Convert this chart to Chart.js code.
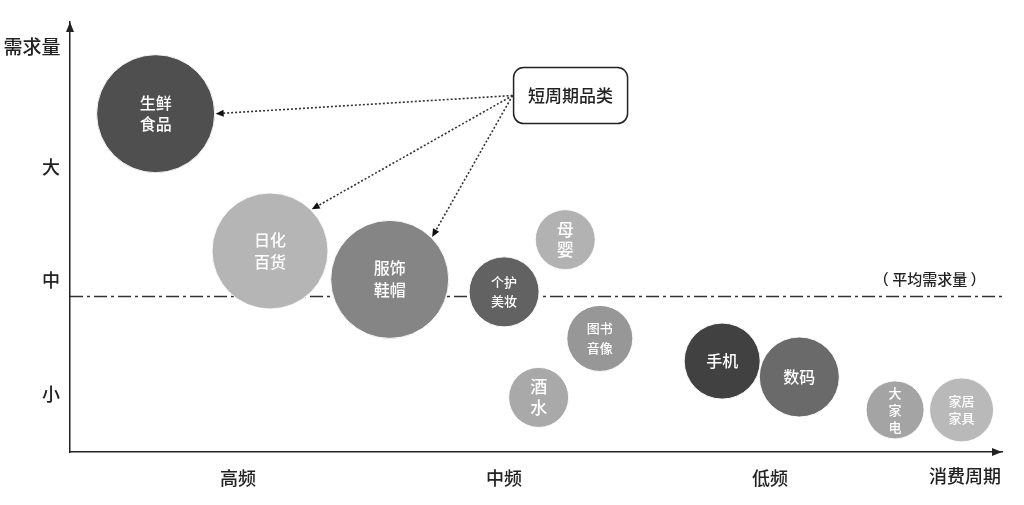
<!DOCTYPE html>
<html><head><meta charset="utf-8">
<script src="https://cdn.jsdelivr.net/npm/chart.js@4.4.1/dist/chart.umd.min.js"></script>
<style>html,body{margin:0;padding:0;background:#fff;overflow:hidden;}</style>
</head><body>
<canvas id="c" width="1024" height="505"></canvas>
<script>
// ---- data ----
const categories = ['生鲜\n食品','日化\n百货','服饰\n鞋帽','个护\n美妆','母\n婴','图书\n音像','酒\n水','手机','数码','大\n家\n电','家居\n家具'];
const frequency = [0.69, 1.12, 1.57, 2.00, 2.23, 2.36, 2.13, 2.82, 3.11, 3.47, 3.72];
const demand = [3.47, 2.26, 2.01, 1.90, 2.36, 1.49, 0.97, 1.29, 1.15, 0.86, 0.86];
const bubbleSize = [59, 58, 59, 35, 30, 33, 30, 38, 40, 29, 32];
const xTickValues = [1, 2, 3];
const xTickLabels = ['高频', '中频', '低频'];
const yTickValues = [1, 2, 3];
const yTickLabels = ['小', '中', '大'];
const averageDemand = 1.86;
const shortCycleIdx = [0, 1, 2];
const calloutText = '短周期品类';
const avgText = '（ 平均需求量 ）';
const xTitle = '消费周期';
const yTitle = '需求量';

// ---- styles ----
const FONT = '"Noto Sans CJK SC", "Noto Sans", sans-serif';
const W = '500 ';
const bubbleColors = ['#4f4f4f','#b5b5b5','#858585','#626262','#b2b2b2','#979797','#a9a9a9','#414141','#6a6a6a','#a4a4a4','#b9b9b9'];
const labelFont = [16,16,16,13,17,13,17,16,16,13,13];
const labelLine = [21,22,22,19,20,20,21,20,20,17,17];
const arrowAngles = [0, -Math.PI/4, -Math.PI/4];

const points = categories.map((c, i) => ({x: frequency[i], y: demand[i], r: bubbleSize[i]}));

function arrowHead(ctx, x1, y1, x2, y2, len, wid) {
  const a = Math.atan2(y2 - y1, x2 - x1);
  ctx.beginPath();
  ctx.moveTo(x2, y2);
  ctx.lineTo(x2 - len*Math.cos(a) + wid*Math.sin(a), y2 - len*Math.sin(a) - wid*Math.cos(a));
  ctx.lineTo(x2 - len*Math.cos(a) - wid*Math.sin(a), y2 - len*Math.sin(a) + wid*Math.cos(a));
  ctx.closePath();
  ctx.fill();
}

const decor = {
  id: 'decor',
  beforeDatasetsDraw(chart) {
    const {ctx, chartArea: ca, scales} = chart;
    const y = scales.y.getPixelForValue(averageDemand);
    ctx.save();
    ctx.strokeStyle = '#333';
    ctx.lineWidth = 1.5;
    ctx.setLineDash([13, 4, 3, 4]);
    ctx.beginPath();
    ctx.moveTo(ca.left, y);
    ctx.lineTo(ca.right, y);
    ctx.stroke();
    ctx.setLineDash([]);
    ctx.fillStyle = '#222';
    ctx.font = W + '15px ' + FONT;
    ctx.textAlign = 'center';
    ctx.textBaseline = 'middle';
    ctx.fillText(avgText, scales.x.getPixelForValue(3.6), y - 17);
    ctx.restore();
  },
  afterDatasetsDraw(chart) {
    const {ctx, chartArea: ca, scales} = chart;
    const meta = chart.getDatasetMeta(0);
    ctx.save();
    // bubble labels
    ctx.fillStyle = '#ffffff';
    ctx.textAlign = 'center';
    ctx.textBaseline = 'middle';
    meta.data.forEach((el, i) => {
      const lines = categories[i].split('\n');
      ctx.font = W + labelFont[i] + 'px ' + FONT;
      const lh = labelLine[i];
      const y0 = el.y - (lines.length - 1) * lh / 2;
      lines.forEach((ln, k) => ctx.fillText(ln, el.x, y0 + k * lh));
    });
    // axis arrows
    ctx.fillStyle = '#222';
    arrowHead(ctx, ca.left, ca.bottom, ca.left, ca.top, 10, 4);
    arrowHead(ctx, ca.left, ca.bottom, ca.right, ca.bottom, 10, 4);
    // axis titles
    ctx.font = W + '19px ' + FONT;
    ctx.textAlign = 'center';
    ctx.fillText(yTitle, 32, 47);
    ctx.font = W + '18px ' + FONT;
    ctx.fillText(xTitle, 965, 476);
    // callout box
    const bx = scales.x.getPixelForValue(2.25), by = scales.y.getPixelForValue(3.63);
    const bw = 114, bh = 56;
    const left = bx - bw/2, top = by - bh/2;
    ctx.fillStyle = '#fff';
    ctx.strokeStyle = '#222';
    ctx.lineWidth = 1.5;
    ctx.beginPath();
    ctx.roundRect(left, top, bw, bh, 10);
    ctx.fill();
    ctx.stroke();
    ctx.fillStyle = '#222';
    ctx.font = W + '17px ' + FONT;
    ctx.fillText(calloutText, bx, by);
    // dotted arrows
    const sx = left - 1, sy = by;
    shortCycleIdx.forEach((idx, k) => {
      const el = meta.data[idx];
      const r = el.options.radius + 1;
      const ex = el.x + r * Math.cos(arrowAngles[k]);
      const ey = el.y + r * Math.sin(arrowAngles[k]);
      const a = Math.atan2(ey - sy, ex - sx);
      ctx.strokeStyle = '#333';
      ctx.lineWidth = 1.6;
      ctx.setLineDash([2, 2]);
      ctx.beginPath();
      ctx.moveTo(sx, sy);
      ctx.lineTo(ex - 7*Math.cos(a), ey - 7*Math.sin(a));
      ctx.stroke();
      ctx.setLineDash([]);
      ctx.fillStyle = '#111';
      arrowHead(ctx, sx, sy, ex, ey, 8, 3.5);
    });
    ctx.restore();
  }
};

new Chart(document.getElementById('c'), {
  type: 'bubble',
  data: {
    datasets: [{
      data: points,
      backgroundColor: bubbleColors,
      borderColor: 'rgba(255,255,255,0.9)',
      borderWidth: 1,
      clip: false
    }]
  },
  options: {
    responsive: false,
    animation: false,
    events: [],
    layout: {autoPadding: false, padding: {top: 22, right: 22, left: 0, bottom: 0}},
    plugins: {legend: {display: false}, tooltip: {enabled: false}},
    scales: {
      x: {
        type: 'linear', min: 0.368, max: 3.872,
        grid: {display: false, drawTicks: false},
        border: {display: true, color: '#222', width: 1.5},
        ticks: {padding: 15, color: '#222', font: {size: 18, weight: 500, family: FONT},
          callback: (v) => { const i = xTickValues.indexOf(v); return i >= 0 ? xTickLabels[i] : ''; }},
        afterBuildTicks: (s) => { s.ticks = xTickValues.map(v => ({value: v})); },
        afterFit: (s) => { s.height = 53; }
      },
      y: {
        type: 'linear', min: 0.489, max: 4.278,
        grid: {display: false, drawTicks: false},
        border: {display: true, color: '#222', width: 1.5},
        ticks: {padding: 10, color: '#222', font: {size: 18, weight: 500, family: FONT},
          callback: (v) => { const i = yTickValues.indexOf(v); return i >= 0 ? yTickLabels[i] : ''; }},
        afterBuildTicks: (s) => { s.ticks = yTickValues.map(v => ({value: v})); },
        afterFit: (s) => { s.width = 70; }
      }
    }
  },
  plugins: [decor]
});
</script>
</body></html>
